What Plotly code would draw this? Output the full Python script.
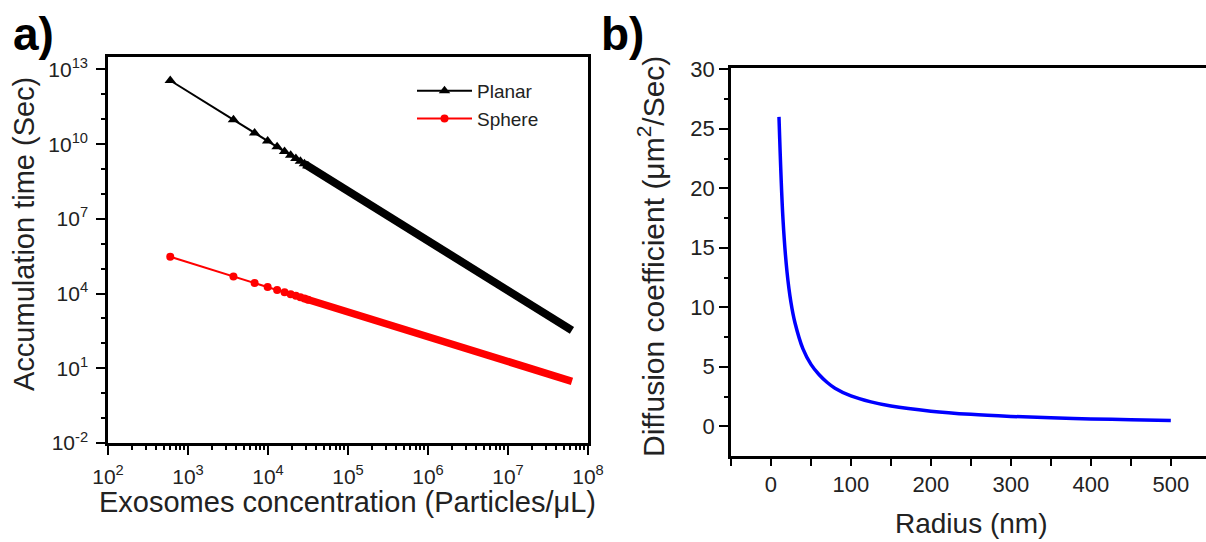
import plotly.graph_objects as go

# ---------------- data ----------------
# panel a: sparse (individually visible) markers
conc_sparse = [600, 3700, 6800, 9900, 13000, 16100, 19200, 22300, 25400, 28500, 31600]
planar_sparse = [3.6e12, 9.6e10, 2.8e10, 1.35e10, 7.8e9, 5.1e9, 3.6e9, 2.65e9, 2.05e9, 1.63e9, 1.32e9]
sphere_sparse = [3.0e5, 4.9e4, 2.66e4, 1.83e4, 1.39e4, 1.12e4, 9.4e3, 8.1e3, 7.1e3, 6.35e3, 5.7e3]
# panel a: dense band of overlapping markers
conc_dense = [28500, 1e5, 1e6, 1e7, 6.3e7]
planar_dense = [1.63e9, 1.32e8, 1.32e6, 1.32e4, 330]
sphere_dense = [6.35e3, 1.8e3, 181, 18, 3.0]

x_tick_exp = [2, 3, 4, 5, 6, 7, 8]
y_tick_exp = [-2, 1, 4, 7, 10, 13]

# panel b
radius_nm = [10, 15, 20, 25, 30, 40, 50, 60, 70, 80, 100, 125, 150, 200, 250, 300, 350, 400, 450, 500]
diffusion = [26.0, 17.4, 13.0, 10.4, 8.7, 6.5, 5.2, 4.35, 3.7, 3.2, 2.55, 2.05, 1.7, 1.27, 1.0, 0.83, 0.71, 0.62, 0.55, 0.48]

# ---------------- figure ----------------
W, H = 1206, 542
FONT = "Liberation Sans, Arial, sans-serif"
TXT = "#222222"

def px_x(p):
    return p / W

def px_y(p):
    return 1 - p / H

fig = go.Figure()

fig.add_trace(go.Scatter(x=conc_dense, y=planar_dense, mode="lines",
                         line=dict(color="black", width=8), showlegend=False,
                         xaxis="x", yaxis="y", hoverinfo="skip"))
fig.add_trace(go.Scatter(x=conc_dense, y=sphere_dense, mode="lines",
                         line=dict(color="#ff0000", width=7.5), showlegend=False,
                         xaxis="x", yaxis="y", hoverinfo="skip"))
fig.add_trace(go.Scatter(x=conc_sparse, y=planar_sparse, mode="lines+markers", name="Planar",
                         line=dict(color="black", width=2),
                         marker=dict(symbol="triangle-up", size=10, color="black"),
                         xaxis="x", yaxis="y"))
fig.add_trace(go.Scatter(x=conc_sparse, y=sphere_sparse, mode="lines+markers", name="Sphere",
                         line=dict(color="#ff0000", width=2),
                         marker=dict(symbol="circle", size=8, color="#ff0000"),
                         xaxis="x", yaxis="y"))

fig.add_trace(go.Scatter(x=radius_nm, y=diffusion, mode="lines",
                         line=dict(color="#0000ff", width=3.5, shape="spline"),
                         showlegend=False, xaxis="x2", yaxis="y2"))

def axis_common(size):
    return dict(showline=True, linecolor="black", linewidth=2.5, ticks="outside",
                tickcolor="black", tickwidth=2, showgrid=False, zeroline=False,
                automargin=False,
                tickfont=dict(family=FONT, size=size, color=TXT))

fig.update_layout(
    width=W, height=H,
    margin=dict(l=0, r=0, t=0, b=0, autoexpand=False),
    paper_bgcolor="white", plot_bgcolor="white",
    font=dict(family=FONT, color=TXT),
    xaxis=dict(type="log", range=[2, 8], domain=[px_x(108), px_x(588)], anchor="y",
               mirror=True, ticklen=9, ticklabelstandoff=4,
               tickvals=[10 ** e for e in x_tick_exp],
               ticktext=["10<sup>%d</sup>" % e for e in x_tick_exp],
               minor=dict(ticks="outside", ticklen=4, tickcolor="black", tickwidth=1.5,
                          tickvals=[m * 10 ** e for e in range(2, 8) for m in range(2, 10)]),
               **axis_common(21)),
    yaxis=dict(type="log", range=[-2, 13.5], domain=[px_y(443), px_y(57)], anchor="x",
               mirror=True, ticklen=9, ticklabelstandoff=4,
               tickvals=[10 ** e for e in y_tick_exp],
               ticktext=["10<sup>%d</sup>" % e for e in y_tick_exp],
               minor=dict(ticks="outside", ticklen=4, tickcolor="black", tickwidth=1.5,
                          tickvals=[10 ** e for e in range(-2, 14) if e not in y_tick_exp]),
               **axis_common(21)),
    xaxis2=dict(range=[-50, 544], domain=[px_x(731), 1.0], anchor="y2",
                mirror=True, ticklen=7, tickvals=[0, 100, 200, 300, 400, 500],
                minor=dict(ticks="outside", ticklen=7, tickcolor="black", tickwidth=2,
                           tickvals=[-50, 50, 150, 250, 350, 450]),
                **axis_common(22)),
    yaxis2=dict(range=[-2.5, 30.15], domain=[px_y(456), px_y(67.5)], anchor="x2",
                mirror=False, ticklen=9, tickvals=[0, 5, 10, 15, 20, 25, 30],
                minor=dict(ticks="outside", ticklen=4, tickcolor="black", tickwidth=1.5,
                           tickvals=[2.5, 7.5, 12.5, 17.5, 22.5, 27.5]),
                **axis_common(22)),
    legend=dict(x=px_x(412), y=px_y(72), xanchor="left", yanchor="top",
                bgcolor="rgba(0,0,0,0)", font=dict(family=FONT, size=19, color=TXT),
                tracegroupgap=0, itemwidth=55),
)

annotations = [
    dict(text="<b>a)</b>", x=px_x(11), y=px_y(34), xanchor="left", yanchor="middle",
         font=dict(size=46, color="black", family=FONT)),
    dict(text="<b>b)</b>", x=px_x(599), y=px_y(34), xanchor="left", yanchor="middle",
         font=dict(size=46, color="black", family=FONT)),
    dict(text="Accumulation time (Sec)", x=px_x(24), y=px_y(234), textangle=-90,
         xanchor="center", yanchor="middle", font=dict(size=29, family=FONT, color=TXT)),
    dict(text="Exosomes concentration (Particles/\u03bcL)", x=px_x(347), y=px_y(502),
         xanchor="center", yanchor="middle", font=dict(size=29, family=FONT, color=TXT)),
    dict(text="Diffusion coefficient (\u03bcm<sup>2</sup>/Sec)", x=px_x(651), y=px_y(257), textangle=-90,
         xanchor="center", yanchor="middle", font=dict(size=30, family=FONT, color=TXT)),
    dict(text="Radius (nm)", x=px_x(971), y=px_y(523),
         xanchor="center", yanchor="middle", font=dict(size=28, family=FONT, color=TXT)),
]
for a in annotations:
    a.update(xref="paper", yref="paper", showarrow=False)
fig.update_layout(annotations=annotations)

fig.write_html("out.html", config={"displayModeBar": False},
               post_script="document.body.style.margin='0';document.body.style.overflow='hidden';")
